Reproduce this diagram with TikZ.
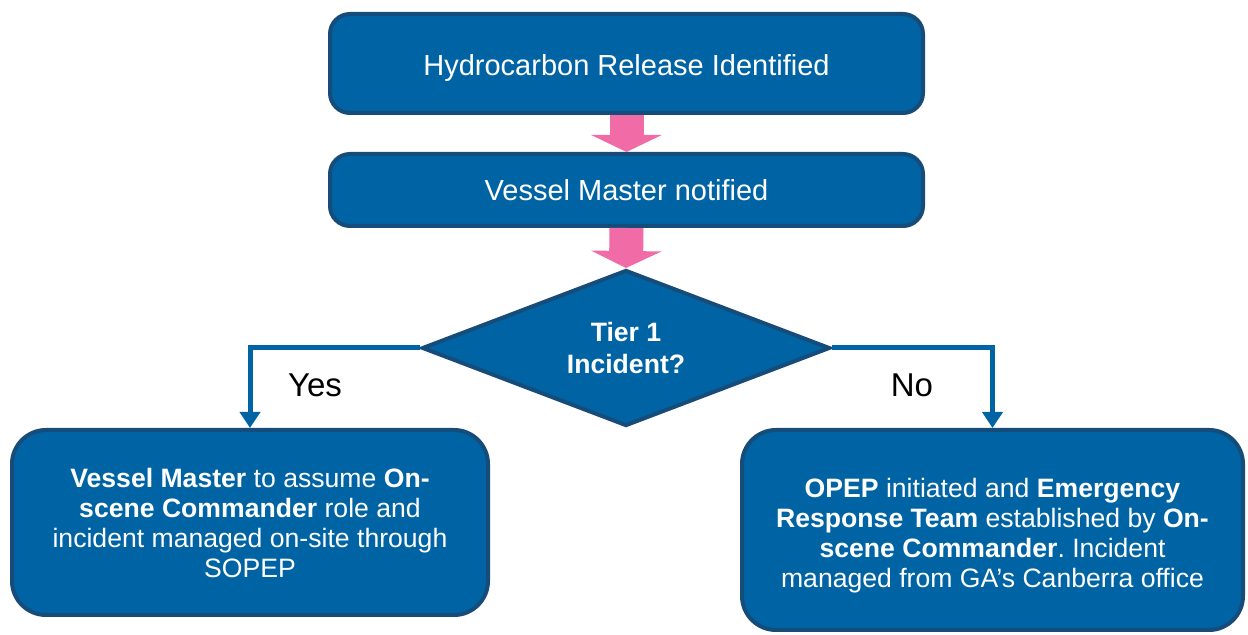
\documentclass[tikz,border=0pt]{standalone}
\usepackage{fontspec}
\setmainfont{Liberation Sans}
\usetikzlibrary{shapes.geometric,arrows.meta}
\frenchspacing

\definecolor{boxblue}{RGB}{0,100,164}
\definecolor{edgeblue}{RGB}{22,76,122}
\definecolor{arrowpink}{RGB}{241,108,167}

\begin{document}
\begin{tikzpicture}[x=0.5pt,y=-0.5pt,
    stepbox/.style={draw=edgeblue, line width=2pt, fill=boxblue, text=white,
        align=center, inner sep=0pt, rounded corners=10pt,
        font=\fontsize{14.5}{17}\selectfont},
    endbox/.style={stepbox, rounded corners=17pt,
        font=\fontsize{13.3}{15}\selectfont},
    decision/.style={diamond, draw=edgeblue, line width=2pt, fill=boxblue,
        text=white, align=center, inner sep=0pt, aspect=2.575,
        minimum width=204pt, minimum height=78pt,
        font=\bfseries\fontsize{13.3}{16}\selectfont},
    pinkarrow/.style={draw=arrowpink, line width=17pt,
        -{Triangle[width=35pt,length=8.5pt]}},
    branch/.style={draw=boxblue, line width=2.5pt,
        -{Triangle[width=10pt,length=8pt]}},
    answer/.style={font=\fontsize{16.5}{19}\selectfont}]

    % Fix the page to the reference size
    \useasboundingbox (0,0) rectangle (1248,635);

    % The two steps at the top
    \node[stepbox, minimum width=296.5pt, minimum height=49.5pt] (release) at (626.5,63.5)
        {\rule{0pt}{15pt}Hydrocarbon Release Identified};
    \node[stepbox, minimum width=296.5pt, minimum height=36pt] (notify) at (626.5,190)
        {Vessel Master notified};

    % The question
    \node[decision] (tier) at (626,348) {Tier 1\\Incident?};

    % The two outcomes
    \node[endbox, minimum width=238pt, minimum height=92.5pt] (onsite) at (250,522.5)
        {\textbf{Vessel Master} to assume \textbf{On-}\\
         \textbf{scene Commander} role and\\
         incident managed on-site through\\
         SOPEP};
    \node[endbox, minimum width=250.5pt, minimum height=100pt] (office) at (992.5,530)
        {\parbox{250pt}{\centering\vspace*{6pt}
         \textbf{OPEP} initiated and \textbf{Emergency}\\
         \textbf{Response Team} established by \textbf{On-}\\
         \textbf{scene Commander}. Incident\\
         managed from GA’s Canberra office}};

    % Pink block arrows between the steps
    \draw[pinkarrow] (release.south) -- (notify.north);
    \draw[pinkarrow] (notify.south) -- (tier.north);

    % Yes and No branches
    \draw[branch] (tier.west) -| (onsite.north);
    \draw[branch] (tier.east) -| (office.north);
    \node[answer] (yes) at (315,385) {Yes};
    \node[answer] (no) at (912,385) {No};

\end{tikzpicture}
\end{document}
